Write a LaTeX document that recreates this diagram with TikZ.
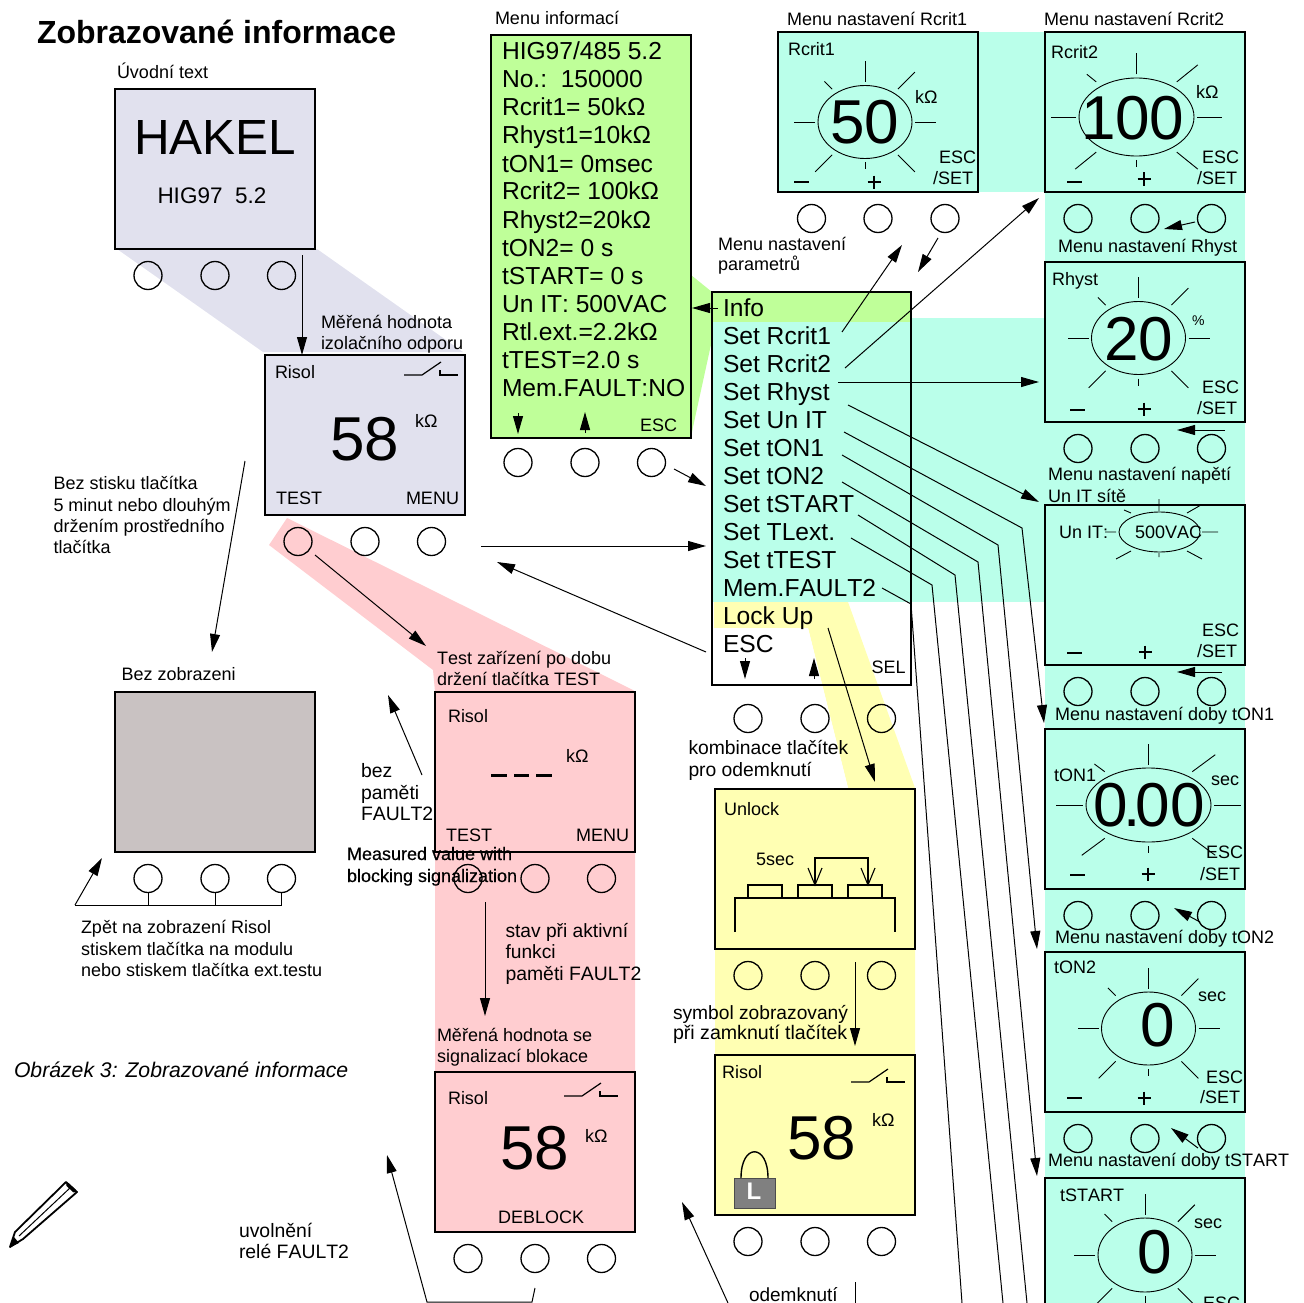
\documentclass[tikz,border=0pt]{standalone}
\usepackage{fontspec}
\setmainfont[Kerning=Off]{Liberation Sans}
\newfontfamily\fbfont[FakeBold=0.4,Kerning=Off]{Liberation Sans}
\usetikzlibrary{arrows.meta,shapes.geometric}
\definecolor{lav}{HTML}{E1E1EE}
\definecolor{pinkbg}{HTML}{FFCDD0}
\definecolor{greenbg}{HTML}{BFFF99}
\definecolor{cyanbg}{HTML}{BAFFEA}
\definecolor{yelbg}{HTML}{FFFFB3}
\definecolor{offgrey}{HTML}{C9C2C2}
\tikzset{
 screen/.style={draw=black,line width=1.6pt,minimum width=200pt,minimum height=160pt,anchor=north west,inner sep=0pt,outer sep=0pt},
 btn/.style={draw=black,line width=1.3pt,circle,minimum size=28pt,inner sep=0pt,outer sep=0pt},
 lbl/.style={anchor=base west,inner sep=0pt,outer sep=0pt},
 conn/.style={line width=1pt,-{Stealth[length=18pt,width=10pt,inset=0pt]}},
 plainline/.style={line width=1pt},
 ray/.style={line width=0.9pt},
 dialshape/.style={draw=black,line width=0.9pt,ellipse,inner sep=0pt,outer sep=0pt},
}
\newcounter{lb}
\newcommand\lab[4][18]{\stepcounter{lb}\node[lbl,font=\fontsize{#1}{#1}\selectfont] (lab\thelb) at (#2,#3) {#4};}
\newcommand\btns[5]{\node[btn] (#1-1) at (#2,#5) {};\node[btn] (#1-2) at (#3,#5) {};\node[btn] (#1-3) at (#4,#5) {};}
\newcommand\conn[3]{\coordinate (#1-s) at (#2);\coordinate (#1-e) at (#3);\draw[conn] (#1-s) -- (#1-e);}
\newcommand\connb[4]{\coordinate (#1-s) at (#2);\coordinate (#1-b) at (#3);\coordinate (#1-e) at (#4);\draw[conn] (#1-s) -- (#1-b) -- (#1-e);}
\newcommand\lineb[4]{\coordinate (#1-s) at (#2);\coordinate (#1-b) at (#3);\coordinate (#1-e) at (#4);\draw[plainline] (#1-s) -- (#1-b) -- (#1-e);}
\newcommand\dial[7]{%
 \node[dialshape,minimum width=2*#4 pt,minimum height=2*#5 pt] (#1) at (#2,#3) {};
 \draw[ray] (#2,{#3-#5-3.5}) -- ++(0,-21);
 \draw[ray] (#2,{#3+#5+4}) -- ++(0,7);
 \draw[ray] ({#2-#4-3},#3) -- ++({-#6-4},0);
 \draw[ray] ({#2+#4+3},#3) -- ++({#6+4},0);
 \draw[ray] ({#2+.7*#4},{#3-.9*#5}) -- ++(#6,-#7);
 \draw[ray] ({#2-.7*#4},{#3-.9*#5}) -- ++({-.45*#6},{-.45*#7});
 \draw[ray] ({#2-.7*#4},{#3+.9*#5}) -- ++(-#6,#7);
 \draw[ray] ({#2+.7*#4},{#3+.9*#5}) -- ++(#6,#7);
}
\newcommand\relay[3]{%
 \draw[line width=1.2pt] (#1,#2) -- ++(18,0) -- (#1+#3,#2-13);
 \draw[line width=1.2pt] (#1+36,#2-5) -- (#1+36,#2) -- (#1+54,#2);
}
\newcommand\minusplus[5]{%
 \draw[line width=1.6pt] (#1,#3) -- ++(15,0);
 \draw[line width=1.6pt] (#2-6.5,#4) -- (#2+6.5,#4) (#2,#4-6.5) -- (#2,#4+6.5);
}
\begin{document}
\begin{tikzpicture}[x=1pt,y=-1pt]
\useasboundingbox (0,0) rectangle (1304,1303);
\clip (0,0) rectangle (1304,1303);
% ---- backgrounds
\fill[lav] (117,249) -- (317,249) -- (463,352) -- (263,352) -- cycle;
\fill[pinkbg] (287,518) -- (633,690) -- (635,692) -- (635,1072) -- (435,1072) -- (435,692) -- (433,670) -- (269,545) -- cycle;
\fill[greenbg] (691,275) -- (712,292) -- (712,340) -- (693,427) -- (691,438) -- cycle;
\fill[greenbg] (712,292) rectangle (911,322);
\fill[cyanbg] (712,322) rectangle (911,602);
\fill[cyanbg] (911,318) rectangle (1045,602);
\fill[cyanbg] (978,32) rectangle (1045,192);
\fill[cyanbg] (1045,192) rectangle (1245,1303);
\fill[yelbg] (714,602) -- (848,602) -- (915,788) -- (915,1055) -- (715,1055) -- (715,788) -- (848,788) -- (808,628) -- (714,628) -- cycle;
\fill[white] (715,628) -- (808,628) -- (848,788) -- (715,788) -- cycle;
% ---- screens
\node[screen,fill=lav] (hakel) at (115,89) {};
\node[screen,fill=lav] (risol) at (265,355) {};
\node[screen,fill=pinkbg] (test) at (435,692) {};
\node[screen,fill=offgrey] (off) at (115,692) {};
\node[screen,fill=pinkbg] (deblock) at (435,1072) {};
\node[screen,fill=greenbg,minimum height=403pt] (info) at (491,35) {};
\node[screen,fill=cyanbg] (rc1) at (778,32) {};
\node[screen,fill=cyanbg] (rc2) at (1045,32) {};
\node[screen,fill=cyanbg] (rh) at (1045,262) {};
\node[screen,fill=cyanbg] (unit) at (1045,505) {};
\node[screen,fill=cyanbg] (ton1) at (1045,729) {};
\node[screen,fill=cyanbg] (ton2) at (1045,952) {};
\node[screen,fill=cyanbg] (tst) at (1045,1178) {};
\node[screen,minimum width=199pt,minimum height=393pt] (menu) at (712,292) {};
\node[screen,fill=yelbg] (unlock) at (715,789) {};
\node[screen,fill=yelbg] (risoly) at (715,1055) {};
% ---- buttons
\btns{bh}{148}{215}{281.5}{275.5}
\btns{br}{298}{365}{431.5}{541.5}
\btns{bt}{468}{535}{601.5}{878.5}
\btns{bo}{148}{215}{281.5}{878.5}
\btns{bd}{468}{535}{601.5}{1258.5}
\btns{bi}{518}{585}{651.5}{462.5}
\btns{bc}{811.5}{878}{945}{218.5}
\btns{bc2}{1078}{1145}{1211.5}{218.5}
\btns{bh2}{1078}{1145}{1211.5}{448.5}
\btns{bu}{1078}{1145}{1211.5}{691.5}
\btns{bt1}{1078}{1145}{1211.5}{915.5}
\btns{bt2}{1078}{1145}{1211.5}{1138.5}
\btns{bm}{748}{815}{881.5}{718.5}
\btns{bl}{748}{815}{881.5}{975.5}
\btns{bs}{748}{815}{881.5}{1241.5}
% ---- left column text
\lab[32]{37}{44}{\textbf{Zobrazované informace}}
\lab{117}{79}{Úvodní text}
\lab[49.4]{134}{154}{HAKEL}
\lab[22.5]{157.5}{203}{HIG97\ \ 5.2}
\lab{321}{328}{Měřená hodnota}
\lab{321}{349}{izolačního odporu}
\lab{275}{378}{Risol}
\lab[62]{330}{460}{58}
\lab{415}{427}{kΩ}
\lab{276}{504}{TEST}
\lab{406}{504}{MENU}
\relay{404}{375}{37}
\lab{53.5}{489}{Bez stisku tlačítka}
\lab{53.5}{511}{5 minut nebo dlouhým}
\lab{53.5}{532}{držením prostředního}
\lab{53.5}{553}{tlačítka}
\lab{121.5}{680}{Bez zobrazeni}
\lab{81}{933}{Zpět na zobrazení Risol}
\lab{81}{955}{stiskem tlačítka na modulu}
\lab{81}{976}{nebo stiskem tlačítka ext.testu}
\lab[21.2]{14}{1077}{\itshape Obrázek 3: Zobrazované informace}
\lab[19.4]{239}{1237}{uvolnění}
\lab[19.4]{239}{1258}{relé FAULT2}
% ---- test / deblock text
\lab{437}{664}{Test zařízení po dobu}
\lab{437}{685}{držení tlačítka TEST}
\lab{448}{722}{Risol}
\lab{566}{762}{kΩ}
\lab{446}{841}{TEST}
\lab{576}{841}{MENU}
\draw[line width=3pt] (491,775) -- (507,775) (514,775) -- (529,775) (536,775) -- (552,775);
\lab[19.4]{361}{777}{bez}
\lab[19.4]{361}{799}{paměti}
\lab[19.4]{361}{820}{FAULT2}
\lab[19.2]{505.5}{937}{stav při aktivní}
\lab[19.2]{505.5}{958}{funkci}
\lab[19.4]{505.5}{980}{paměti FAULT2}
\lab{437}{1041}{Měřená hodnota se}
\lab{437}{1062}{signalizací blokace}
\lab{448}{1104}{Risol}
\lab[62]{500}{1169}{58}
\lab{585}{1142}{kΩ}
\lab{498}{1223}{DEBLOCK}
\relay{564}{1096}{37}
\lab{347}{860}{\fbfont Measured value with}
\lab{347}{882}{\fbfont blocking signalization}
% ---- info screen
\lab{495}{25}{Menu informací}
\foreach \t [count=\i from 0] in {HIG97/485 5.2,No.:\ \ 150000,Rcrit1= 50kΩ,Rhyst1=10kΩ,tON1= 0msec,Rcrit2= 100kΩ,Rhyst2=20kΩ,tON2= 0 s,tSTART= 0 s,Un IT: 500VAC,Rtl.ext.=2.2kΩ,tTEST=2.0 s,Mem.FAULT:NO}{
 \pgfmathsetmacro\yy{60+28*\i}
 \node[lbl,font=\fontsize{24.6}{24.6}\selectfont] (infoline\i) at (502,\yy) {\t};
}
\lab{640}{431}{ESC}
% ---- menu screen
\lab{718}{250}{Menu nastavení}
\lab{718}{270}{parametrů}
\foreach \t [count=\i from 0] in {Info,Set Rcrit1,Set Rcrit2,Set Rhyst,Set Un IT,Set tON1,Set tON2,Set tSTART,Set TLext.,Set tTEST,Mem.FAULT2,Lock Up,ESC}{
 \pgfmathsetmacro\yy{316+28*\i}
 \node[lbl,font=\fontsize{24.6}{24.6}\selectfont] (menuline\i) at (723,\yy) {\t};
}
\lab{871.5}{673}{SEL}
% ---- Rcrit1
\lab{787}{26}{Menu nastavení Rcrit1}
\lab{788}{56}{Rcrit1}
\dial{d1}{865}{122}{47}{36.5}{17}{17}
\lab[62]{830}{143}{50}
\lab{915}{104}{kΩ}
\lab{939}{164}{ESC}
\lab{933}{184}{/SET}
\minusplus{794}{874}{182}{182}{}
% ---- Rcrit2
\lab{1044}{26}{Menu nastavení Rcrit2}
\lab{1051}{59}{Rcrit2}
\dial{d2}{1136.5}{117}{57.5}{39}{21}{17}
\lab[62]{1081}{140}{100}
\lab{1196}{99}{kΩ}
\lab{1202}{164}{ESC}
\lab{1197}{184}{/SET}
\minusplus{1067}{1144}{182}{179}{}
% ---- Rhyst
\lab{1058}{252}{Menu nastavení Rhyst}
\lab{1052}{285}{Rhyst}
\dial{d3}{1138.5}{338}{47}{36.5}{17}{17}
\lab[62]{1104}{360}{20}
\lab[14]{1192}{325}{\%}
\lab{1202}{393}{ESC}
\lab{1197}{414}{/SET}
\minusplus{1070}{1144}{410}{409}{}
% ---- Un IT
\lab{1048}{480}{Menu nastavení napětí}
\lab{1048}{502}{Un IT sítě}
\lab{1059}{538}{Un IT:}
\node[dialshape,minimum width=81pt,minimum height=40pt] (d4) at (1159.5,532) {};
\lab{1135}{538}{500VAC}
\draw[ray] (1159,499) -- (1159,511) (1187,513) -- (1201,505) (1131,513) -- (1124,510) (1105,532) -- (1116,532) (1202,532) -- (1218,532) (1131,551) -- (1116,559) (1187,551) -- (1202,559) (1159,553) -- (1159,557);
\lab{1202}{636}{ESC}
\lab{1197}{657}{/SET}
\minusplus{1067}{1145}{653}{652}{}
% ---- tON1
\lab{1055}{720}{Menu nastavení doby tON1}
\lab{1054}{781}{tON1}
\dial{d5}{1148.5}{805}{62.5}{37}{23}{17}
\lab[62]{1093}{826}{0\kern-4pt.\kern-5pt00}
\lab{1211}{785}{sec}
\lab{1206}{858}{ESC}
\lab{1200}{880}{/SET}
\minusplus{1070}{1148}{875}{874}{}
% ---- tON2
\lab{1055}{943}{Menu nastavení doby tON2}
\lab{1054}{973}{tON2}
\dial{d6}{1148.5}{1028.5}{47}{36.5}{17}{17}
\lab[62]{1140}{1046}{0}
\lab{1198}{1001}{sec}
\lab{1206}{1083}{ESC}
\lab{1200}{1103}{/SET}
\minusplus{1067}{1144}{1098}{1098}{}
% ---- tSTART
\lab{1048}{1166}{Menu nastavení doby tSTART}
\lab{1060}{1201}{tSTART}
\dial{d7}{1145}{1255}{47}{37}{17}{17}
\lab[62]{1137}{1273}{0}
\lab{1194}{1228}{sec}
\lab{1203}{1309}{ESC}
% ---- unlock
\lab[19.3]{688.5}{754}{kombinace tlačítek}
\lab[19.3]{688.5}{776}{pro odemknutí}
\lab{724}{815}{Unlock}
\lab{756}{865}{5sec}
\draw[line width=1.1pt] (735,932) -- (735,898) -- (895,898) -- (895,932);
\draw[line width=1.1pt] (748,898) -- (748,885) -- (782,885) -- (782,898);
\draw[line width=1.1pt] (798,898) -- (798,885) -- (832,885) -- (832,898);
\draw[line width=1.1pt] (848,898) -- (848,885) -- (882,885) -- (882,898);
\draw[line width=1.1pt] (815,885) -- (815,858) -- (868,858) -- (868,885);
\draw[line width=1.1pt] (808,868) -- (815,885) -- (822,868);
\draw[line width=1.1pt] (861,868) -- (868,885) -- (875,868);
% ---- risol yellow
\lab[19.2]{673}{1019}{symbol zobrazovaný}
\lab[19.6]{673}{1039}{při zamknutí tlačítek}
\lab{722}{1078}{Risol}
\lab[62]{787}{1159}{58}
\lab{872}{1126}{kΩ}
\relay{851}{1082}{37}
\draw[line width=1.4pt] (741,1178) .. controls (741,1143) and (768,1143) .. (768,1178);
\node[draw=black!70,line width=1pt,fill=black!50,minimum width=41pt,minimum height=30pt,inner sep=0pt] (lockbody) at (754.5,1193) {};
\node[lbl,text=white,font=\fontsize{24}{24}\selectfont\bfseries,anchor=base] (lockL) at (754,1199) {L};
\lab[19]{749}{1301.5}{odemknutí}
% ---- connectors
\conn{a1}{302,255}{302,355}
\conn{a2}{245,461}{212,652}
\conn{a3}{315,555}{426,646}
\conn{a4}{481,546}{706,546}
\conn{a5}{706,652}{497,562}
\conn{a6}{718,308}{692,308}
\conn{a7}{518,413}{518,434}
\conn{a8}{585,433}{585,412}
\conn{a9}{674,469}{706,486}
\conn{a10}{842,332}{902,245}
\conn{a11}{845,368}{1039,198}
\conn{a12}{838,382}{1039,382}
\conn{a13}{938,238}{918,272}
\conn{a14}{1195,222}{1164,229}
\conn{a15}{1225,430}{1177,430}
\conn{a16}{1222,672}{1177,672}
\conn{a17}{1200,922}{1174,908}
\conn{a18}{1198,1148}{1171,1128}
\conn{a19}{848,405}{1039,502}
\connb{a20}{844,432}{1022,528}{1044,723}
\connb{a21}{842,455}{998,545}{1037,949}
\connb{a22}{842,482}{978,562}{1037,1176}
\lineb{l1}{858,515}{955,575}{1027,1303}
\lineb{l2}{851,538}{932,585}{1003,1303}
\lineb{l3}{882,588}{911,604}{962,1303}
\conn{a23}{828,628}{875,782}
\conn{a24}{855,962}{855,1046}
\conn{a25}{745,658}{745,679}
\conn{a26}{814,679}{814,658}
\conn{a27}{422,775}{388,695}
\conn{a28}{485,902}{485,1016}
\coordinate (bus-l) at (75,905);
\coordinate (bus-r) at (281.5,905);
\draw[plainline] (bus-l) -- (bus-r);
\draw[plainline] (bo-1) -- (148,905) (bo-2) -- (215,905) (bo-3) -- (281.5,905);
\conn{a29}{75,905}{102,858}
\coordinate (u-a) at (535,1288);
\coordinate (u-b) at (532,1302);
\coordinate (u-c) at (427,1302);
\coordinate (u-d) at (387,1155);
\draw[conn] (u-a) -- (u-b) -- (u-c) -- (u-d);
\conn{a30}{728,1303}{682,1202}
\coordinate (v-a) at (855,1282);
\coordinate (v-b) at (855,1303);
\draw[plainline] (v-a) -- (v-b);
% ---- pencil
\draw[line width=1.8pt,fill=white,line join=round] (15,1232) -- (66,1182) -- (77,1192) -- (23,1239) -- (10,1247) -- cycle;
\draw[line width=1pt] (19,1236) -- (71,1187);
\draw[line width=3.5pt,line cap=round] (67.5,1184.5) -- (74.5,1191);
\fill (10,1247) -- (14,1237) -- (19,1243) -- cycle;
\end{tikzpicture}
\end{document}
